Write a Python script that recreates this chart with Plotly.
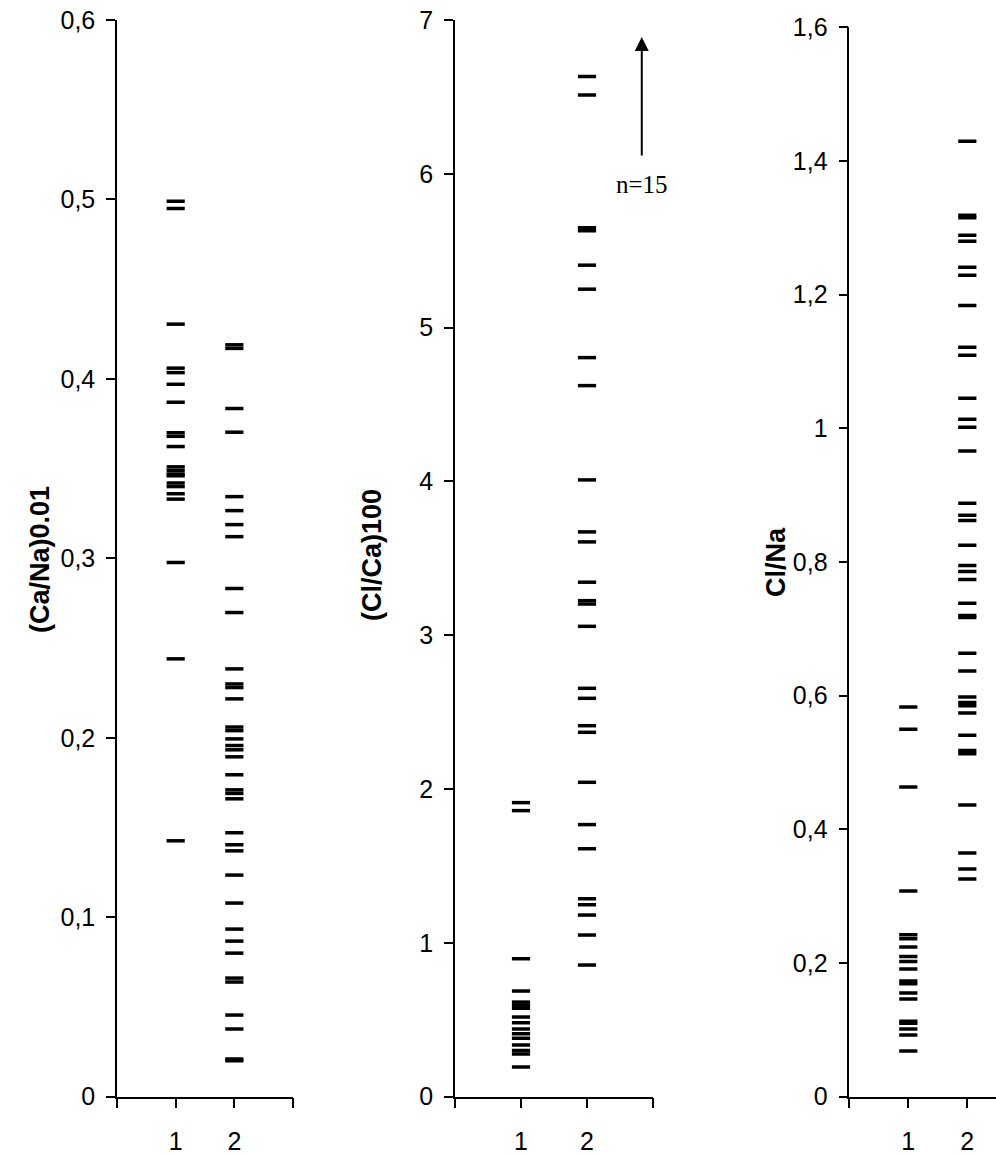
import plotly.graph_objects as go

# ---------------- data ----------------
categories = ["1", "2"]

# Panel 1: (Ca/Na)0.01
ca_na_g1 = [0.499, 0.495, 0.4305, 0.406, 0.4035, 0.397, 0.387, 0.370, 0.368, 0.3623,
            0.351, 0.349, 0.347, 0.346, 0.342, 0.340, 0.336, 0.333, 0.2977, 0.244, 0.1426]
ca_na_g2 = [0.419, 0.417, 0.3835, 0.3703, 0.3344, 0.3266, 0.3188, 0.3121, 0.2832, 0.2698,
            0.2384, 0.230, 0.228, 0.2217, 0.206, 0.204, 0.1994, 0.1957, 0.1933, 0.1894,
            0.1794, 0.171, 0.169, 0.166, 0.1471, 0.1404, 0.137, 0.1235, 0.1079, 0.0934,
            0.0867, 0.080, 0.0661, 0.0639, 0.0455, 0.0377, 0.021, 0.020]

# Panel 2: (Cl/Ca)100
cl_ca_g1 = [1.912, 1.860, 0.897, 0.687, 0.615, 0.595, 0.575, 0.518, 0.48, 0.44,
            0.41, 0.38, 0.336, 0.30, 0.277, 0.193]
cl_ca_g2 = [6.632, 6.513, 5.65, 5.63, 5.406, 5.250, 4.805, 4.623, 4.010, 3.672, 3.607,
            3.345, 3.225, 3.203, 3.058, 2.655, 2.590, 2.412, 2.369, 2.044, 1.769, 1.612,
            1.287, 1.248, 1.181, 1.051, 0.856]

# Panel 3: Cl/Na
cl_na_g1 = [0.583, 0.550, 0.4633, 0.3077, 0.2423, 0.2363, 0.2239, 0.2099, 0.2024, 0.191,
            0.173, 0.169, 0.1551, 0.1461, 0.113, 0.110, 0.1013, 0.0923, 0.0684]
cl_na_g2 = [1.4296, 1.319, 1.315, 1.289, 1.280, 1.241, 1.229, 1.184, 1.1215, 1.1095,
            1.045, 1.0137, 1.0018, 0.966, 0.888, 0.870, 0.862, 0.825, 0.795, 0.786,
            0.774, 0.7385, 0.720, 0.717, 0.6637, 0.6368, 0.598, 0.590, 0.585, 0.574,
            0.541, 0.518, 0.513, 0.4363, 0.3645, 0.3406, 0.3257]

y_titles = ["(Ca/Na)0.01", "(Cl/Ca)100", "Cl/Na"]
y_ranges = [[0, 0.6], [0, 7], [0, 1.6]]
y_dticks = [0.1, 1, 0.2]

arrow_label = "n=15"
arrow_x = 2.83
arrow_y_tail = 6.11
arrow_y_head = 6.89
label_y = 5.93

# ---------------- figure ----------------
W, H = 996, 1155
FONT = "Arial, Liberation Sans, sans-serif"

def px_x(p):
    return p / W

def px_y(p):
    return 1 - p / H

fig = go.Figure()

panels = [
    (ca_na_g1, ca_na_g2, "x", "y"),
    (cl_ca_g1, cl_ca_g2, "x2", "y2"),
    (cl_na_g1, cl_na_g2, "x3", "y3"),
]
for g1, g2, xa, ya in panels:
    for xi, vals in zip([1, 2], [g1, g2]):
        fig.add_trace(go.Scatter(
            x=[xi] * len(vals), y=vals, mode="markers",
            xaxis=xa, yaxis=ya, showlegend=False, hoverinfo="y",
            marker=dict(symbol="line-ew", size=13, color="black",
                        line=dict(color="black", width=3.5)),
        ))

# axis geometry (pixels)
x_domains = [(117, 293), (455, 653), (849.3, 996)]
x_ranges = [[0, 3], [0, 3], [0, (996 - 849.3) / 59.0]]
y_tops = [20, 20, 27.4]
y_bottom = 1096.7

axis_common = dict(showline=True, linecolor="black", linewidth=1.5,
                   showgrid=False, zeroline=False, ticks="outside",
                   tickcolor="black", tickwidth=1.5, automargin=False,
                   tickfont=dict(family=FONT, size=25, color="black"))

layout_axes = {}
for i in range(3):
    sx = "" if i == 0 else str(i + 1)
    layout_axes["xaxis" + sx] = dict(
        domain=[px_x(x_domains[i][0]), min(1.0, px_x(x_domains[i][1]))],
        range=x_ranges[i], anchor="y" + sx,
        tickvals=[0, 1, 2, 3], ticktext=["", categories[0], categories[1], ""],
        ticklen=10, ticklabelstandoff=12, fixedrange=True, **axis_common)
    layout_axes["yaxis" + sx] = dict(
        domain=[px_y(y_bottom), px_y(y_tops[i])],
        range=y_ranges[i], anchor="x" + sx, dtick=y_dticks[i], tick0=0,
        ticklen=9, ticklabelstandoff=6, fixedrange=True, **axis_common)

annotations = []
title_pos = [(40, 560), (372, 555), (776, 562)]
for t, (tx, ty) in zip(y_titles, title_pos):
    annotations.append(dict(
        text="<b>" + t + "</b>", x=px_x(tx), y=px_y(ty), xref="paper", yref="paper",
        showarrow=False, textangle=-90, xanchor="center", yanchor="middle",
        font=dict(family=FONT, size=27, color="black")))

annotations.append(dict(
    x=arrow_x, y=arrow_y_head, ax=arrow_x, ay=arrow_y_tail,
    xref="x2", yref="y2", axref="x2", ayref="y2",
    text="", showarrow=True, arrowhead=2, arrowsize=1.4, arrowwidth=2,
    arrowcolor="black"))
annotations.append(dict(
    x=arrow_x, y=label_y, xref="x2", yref="y2", text=arrow_label,
    showarrow=False, xanchor="center", yanchor="middle",
    font=dict(family="Times New Roman, Liberation Serif, serif", size=25, color="black")))

fig.update_layout(
    template="none",
    width=W, height=H, margin=dict(l=0, r=0, t=0, b=0, pad=0),
    paper_bgcolor="white", plot_bgcolor="white",
    separators=", ", annotations=annotations, **layout_axes)

fig.write_html("out.html", config={"displayModeBar": False},
               post_script="document.body.style.margin='0';")
